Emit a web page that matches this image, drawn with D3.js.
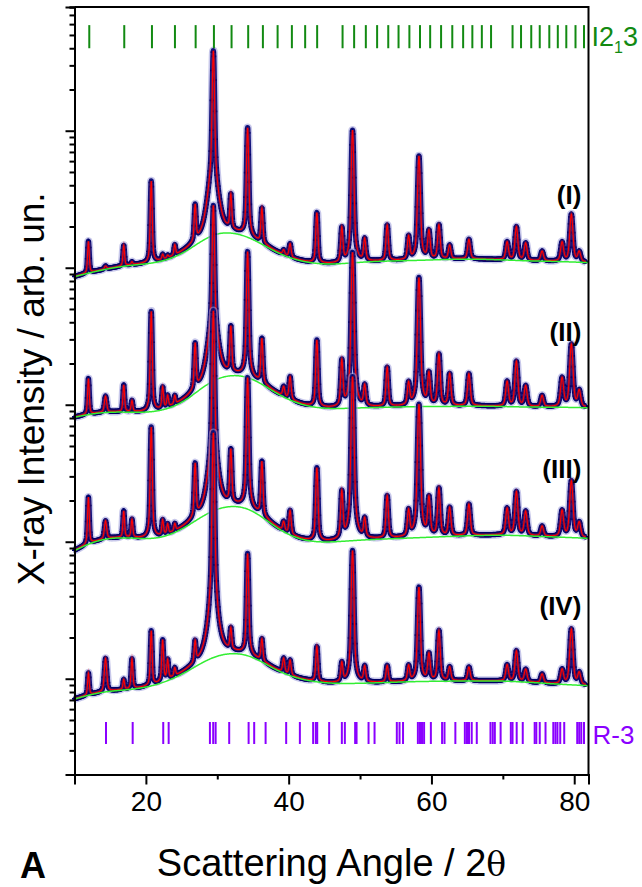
<!DOCTYPE html>
<html><head><meta charset="utf-8">
<script src="https://cdn.jsdelivr.net/npm/d3@7"></script>
<style>
html,body{margin:0;padding:0;background:#fff}
svg{display:block}
text{font-family:"Liberation Sans",Arial,Helvetica,sans-serif}
</style>
</head><body>
<svg id="chart" width="642" height="887"></svg>
<script>
// ---------------- DATA ----------------
const patternNames = ["(I)", "(II)", "(III)", "(IV)"];
const patternOffsets = [1000, 100, 10, 1];   // each pattern shifted by one decade

// reflection positions (2θ, degrees) and widths (FWHM, degrees)
const peakPos  = [11.95,14.35,16.9,18.05,20.75,22.35,23.05,24.05,26.9,29.45,31.9,34.25,36.25,39.3,40.2,43.95,47.45,48.95,50.65,53.8,56.8,58.25,59.65,61.05,62.55,65.25,70.6,71.9,73.2,75.5,78.3,79.6,80.7,29.4];
const peakFwhm = [0.25,0.36,0.25,0.27,0.25,0.27,0.27,0.27,0.27,0.28,0.28,0.28,0.30,0.33,0.33,0.31,0.33,0.33,0.35,0.35,0.36,0.36,0.38,0.38,0.39,0.41,0.43,0.43,0.44,0.45,0.46,0.46,0.47,1.5];

// peak amplitudes above background (relative units) for each pattern
const ampI   = [0.64,0.05,0.42,0.05,3.2,0.10,0.05,0.23,1.3,34,1.5,8.8,1.2,0.10,0.3,1.44,0.86,9.0,0.5,0.92,0.55,5.4,0.7,0.9,0.3,0.45,0.4,0.85,0.38,0.2,0.42,1.35,0.2,2.6];
const ampII  = [0.7,0.27,0.5,0.18,3.9,0.4,0.2,0.15,1.5,25,2.0,11.5,1.6,0.2,0.5,2.0,1.14,12,0.4,0.9,0.45,7.5,0.7,1.35,0.7,0.7,0.5,1.1,0.4,0.2,0.6,1.8,0.3,2.0];
const ampIII = [1.15,0.37,0.6,0.38,5.8,0.32,0.2,0.15,2.2,45,2.8,14,2.3,0.2,0.55,2.45,1.28,15,0.4,1.1,0.6,9,1.0,1.35,0.67,0.77,0.63,1.2,0.55,0.2,0.6,1.7,0.3,1.8];
const ampIV  = [0.34,0.6,0.15,0.55,1.34,0.96,0.38,0.15,0.56,60,0.7,6.7,0.6,0.3,0.3,0.76,0.36,7.7,0.28,0.3,0.28,3.7,0.55,1.28,0.25,0.25,0.3,0.64,0.22,0.15,0.25,1.4,0.2,1.0];

// background knots (every 4°, from 10° to 82°)
const bgKnots = [10,14,18,22,26,30,34,38,42,46,50,54,58,62,66,70,74,78,82];
const bgI   = [0.86,0.97,1.05,1.08,1.30,1.88,1.74,1.28,1.09,1.05,1.10,1.12,1.13,1.15,1.16,1.14,1.12,1.11,1.09];
const bgII  = [0.81,0.89,0.88,0.88,1.06,1.62,1.68,1.20,0.97,0.93,0.95,0.96,0.97,0.97,0.98,0.97,0.96,0.96,0.95];
const bgIII = [0.86,1.07,1.07,1.03,1.28,1.80,1.86,1.24,1.00,0.99,1.03,1.05,1.07,1.09,1.11,1.12,1.10,1.08,1.06];
const bgIV  = [0.71,0.81,0.83,0.90,1.12,1.52,1.56,1.14,0.97,0.92,0.925,0.94,0.955,0.96,0.965,0.965,0.94,0.91,0.89];

// Bragg reflection markers of the two phases
const reflI213 = [12.07,16.97,20.85,24.07,26.97,29.53,32.0,34.33,36.39,38.45,40.45,42.31,43.99,47.55,49.17,50.81,52.39,53.95,55.39,56.91,58.40,59.82,61.35,62.92,64.44,65.73,67.06,68.35,71.36,72.55,73.98,75.17,76.51,77.70,78.89,80.18,81.37];
const reflR3 = [14.41,18.15,22.43,23.19,28.97,29.43,29.77,31.67,34.39,35.17,36.77,39.65,41.57,43.43,43.81,44.0,45.67,47.45,47.87,49.31,49.51,51.19,52.03,55.15,55.53,56.02,58.10,58.40,58.68,58.97,59.92,61.49,61.83,63.35,64.68,64.98,65.26,65.64,66.35,68.27,68.59,68.88,69.69,71.12,71.36,71.94,72.79,74.46,74.69,75.17,75.98,77.07,77.37,77.65,78.04,78.60,80.42,80.70,80.99,81.37];

const xMajorTicks = [20, 40, 60, 80];
const xMinorTicks = [10, 30, 50, 70];
const phaseLabels = ["I2", "1", "3", "R-3"];
const xTitle = "Scattering Angle / 2";
const xTitleSymbol = "θ";
const yTitle = "X-ray Intensity / arb. un.";
const panelLetter = "A";

// ---------------- CHART ----------------
const svg = d3.select("#chart");
const x = d3.scaleLinear().domain([10, 82]).range([74.5, 588.5]);
const y = d3.scaleLog().domain([0.2, 80000]).range([774.5, 7]);

const amps = [ampI, ampII, ampIII, ampIV];
const bgs = [bgI, bgII, bgIII, bgIV];
const grid = d3.range(10, 81.65, 0.025);
const gridBg = d3.range(10, 82.001, 0.1);

function bgAt(b, t) { return d3.interpolateBasis(b)((t - bgKnots[0]) / (bgKnots[bgKnots.length - 1] - bgKnots[0])); }
function peaksAt(a, t) {
  let s = 0;
  for (let i = 0; i < peakPos.length; i++) {
    const d = (t - peakPos[i]) / peakFwhm[i];
    s += a[i] * (0.5 / (1 + 4 * d * d) + 0.5 * Math.exp(-2.7726 * d * d));
  }
  return s;
}

const line = d3.line().x(d => x(d[0])).y(d => y(d[1]));

const gData = svg.append("g");
amps.forEach((a, k) => {
  const off = patternOffsets[k];
  const calc = grid.map(t => [t, off * (bgAt(bgs[k], t) + peaksAt(a, t))]);
  const bgLine = gridBg.map(t => [t, off * bgAt(bgs[k], t)]);
  const g = gData.append("g");
  // observed (band of markers)
  g.append("path").attr("d", line(calc)).attr("fill", "none")
    .attr("stroke", "#9a9ad8").attr("stroke-width", 8.5).attr("stroke-linejoin", "round").attr("opacity", 0.55);
  g.append("path").attr("d", line(calc)).attr("fill", "none")
    .attr("stroke", "#14147c").attr("stroke-width", 5.4).attr("stroke-linejoin", "round");
  g.selectAll("path.obs").data(calc.filter((d, i) => i % 3 === 0)).join("path")
    .attr("class", "obs")
    .attr("d", d3.symbol(d3.symbolCross, 14))
    .attr("transform", d => `translate(${x(d[0])},${y(d[1])})`)
    .attr("fill", "#000066");
  // calculated
  g.append("path").attr("d", line(calc)).attr("fill", "none")
    .attr("stroke", "#ff3030").attr("stroke-width", 3.0).attr("opacity", 0.3);
  g.append("path").attr("d", line(calc)).attr("fill", "none")
    .attr("stroke", "#ff0000").attr("stroke-width", 1.1);
  // background
  g.append("path").attr("d", line(bgLine)).attr("fill", "none")
    .attr("stroke", "#33ee33").attr("stroke-width", 1.5);
});

// reflection markers
svg.append("g").selectAll("line").data(reflI213).join("line")
  .attr("x1", d => x(d)).attr("x2", d => x(d))
  .attr("y1", y(60000) + 1).attr("y2", y(40000))
  .attr("stroke", "#128a12").attr("stroke-width", 2);
svg.append("g").selectAll("line").data(reflR3).join("line")
  .attr("x1", d => x(d)).attr("x2", d => x(d))
  .attr("y1", y(0.5) + 2).attr("y2", y(0.5) + 24)
  .attr("stroke", "#8a00ff").attr("stroke-width", 2);

// axes
const yMajor = [1, 10, 100, 1000, 10000];
const yMinor = y.ticks().filter(v => !yMajor.includes(v));
const axG = svg.append("g").attr("class", "axes");
axG.append("g").attr("transform", `translate(${x(10)},0)`)
  .call(d3.axisLeft(y).tickValues(yMinor).tickSize(5).tickFormat(""));
axG.append("g").attr("transform", `translate(${x(10)},0)`)
  .call(d3.axisLeft(y).tickValues(yMajor).tickSize(9).tickFormat(""));
axG.append("g").attr("transform", `translate(0,${y(0.2)})`)
  .call(d3.axisBottom(x).tickValues(xMinorTicks).tickSize(5).tickFormat(""));
axG.append("g").attr("class", "xmaj").attr("transform", `translate(0,${y(0.2)})`)
  .call(d3.axisBottom(x).tickValues(xMajorTicks).tickSize(10).tickPadding(7).tickFormat(d3.format("d")));
axG.selectAll(".domain").attr("stroke", "#000").attr("stroke-width", 2);
axG.selectAll(".tick line").attr("stroke", "#000").attr("stroke-width", 2);
axG.selectAll(".xmaj text").attr("font-size", 28).attr("fill", "#000")
  .attr("font-family", "Liberation Sans, Arial, sans-serif");
// frame top / right
svg.append("path")
  .attr("d", `M${x(10)},${y(80000)}H${x(82)}V${y(0.2)}`)
  .attr("fill", "none").attr("stroke", "#000").attr("stroke-width", 2);

// phase labels
const t1 = svg.append("text").attr("x", x(82) + 3).attr("y", y(40000) - 2)
  .attr("fill", "#128a12").attr("font-size", 27);
t1.append("tspan").text(phaseLabels[0]);
t1.append("tspan").text(phaseLabels[1]).attr("font-size", 16).attr("dy", 7);
t1.append("tspan").text(phaseLabels[2]).attr("dy", -7);
svg.append("text").attr("x", x(82) + 4).attr("y", y(0.5) + 24)
  .attr("fill", "#8a00ff").attr("font-size", 26).text(phaseLabels[3]);

// pattern labels
patternNames.forEach((n, k) => {
  svg.append("text").attr("x", x(81.0)).attr("y", y(patternOffsets[k] * 2.9))
    .attr("text-anchor", "end").attr("font-weight", "bold").attr("font-size", 26).text(n);
});

// titles
const xt = svg.append("text").attr("x", (x(10) + x(82)) / 2).attr("y", 876)
  .attr("text-anchor", "middle").attr("font-size", 38);
xt.append("tspan").text(xTitle);
xt.append("tspan").text(xTitleSymbol).attr("font-family", "DejaVu Serif, serif").attr("font-size", 33);
svg.append("text").attr("transform", `translate(44,${(y(0.2) + y(80000)) / 2 - 2}) rotate(-90)`)
  .attr("text-anchor", "middle").attr("font-size", 37).text(yTitle);
svg.append("text").attr("x", 20).attr("y", 878)
  .attr("font-weight", "bold").attr("font-size", 36).text(panelLetter);
</script>
</body></html>
